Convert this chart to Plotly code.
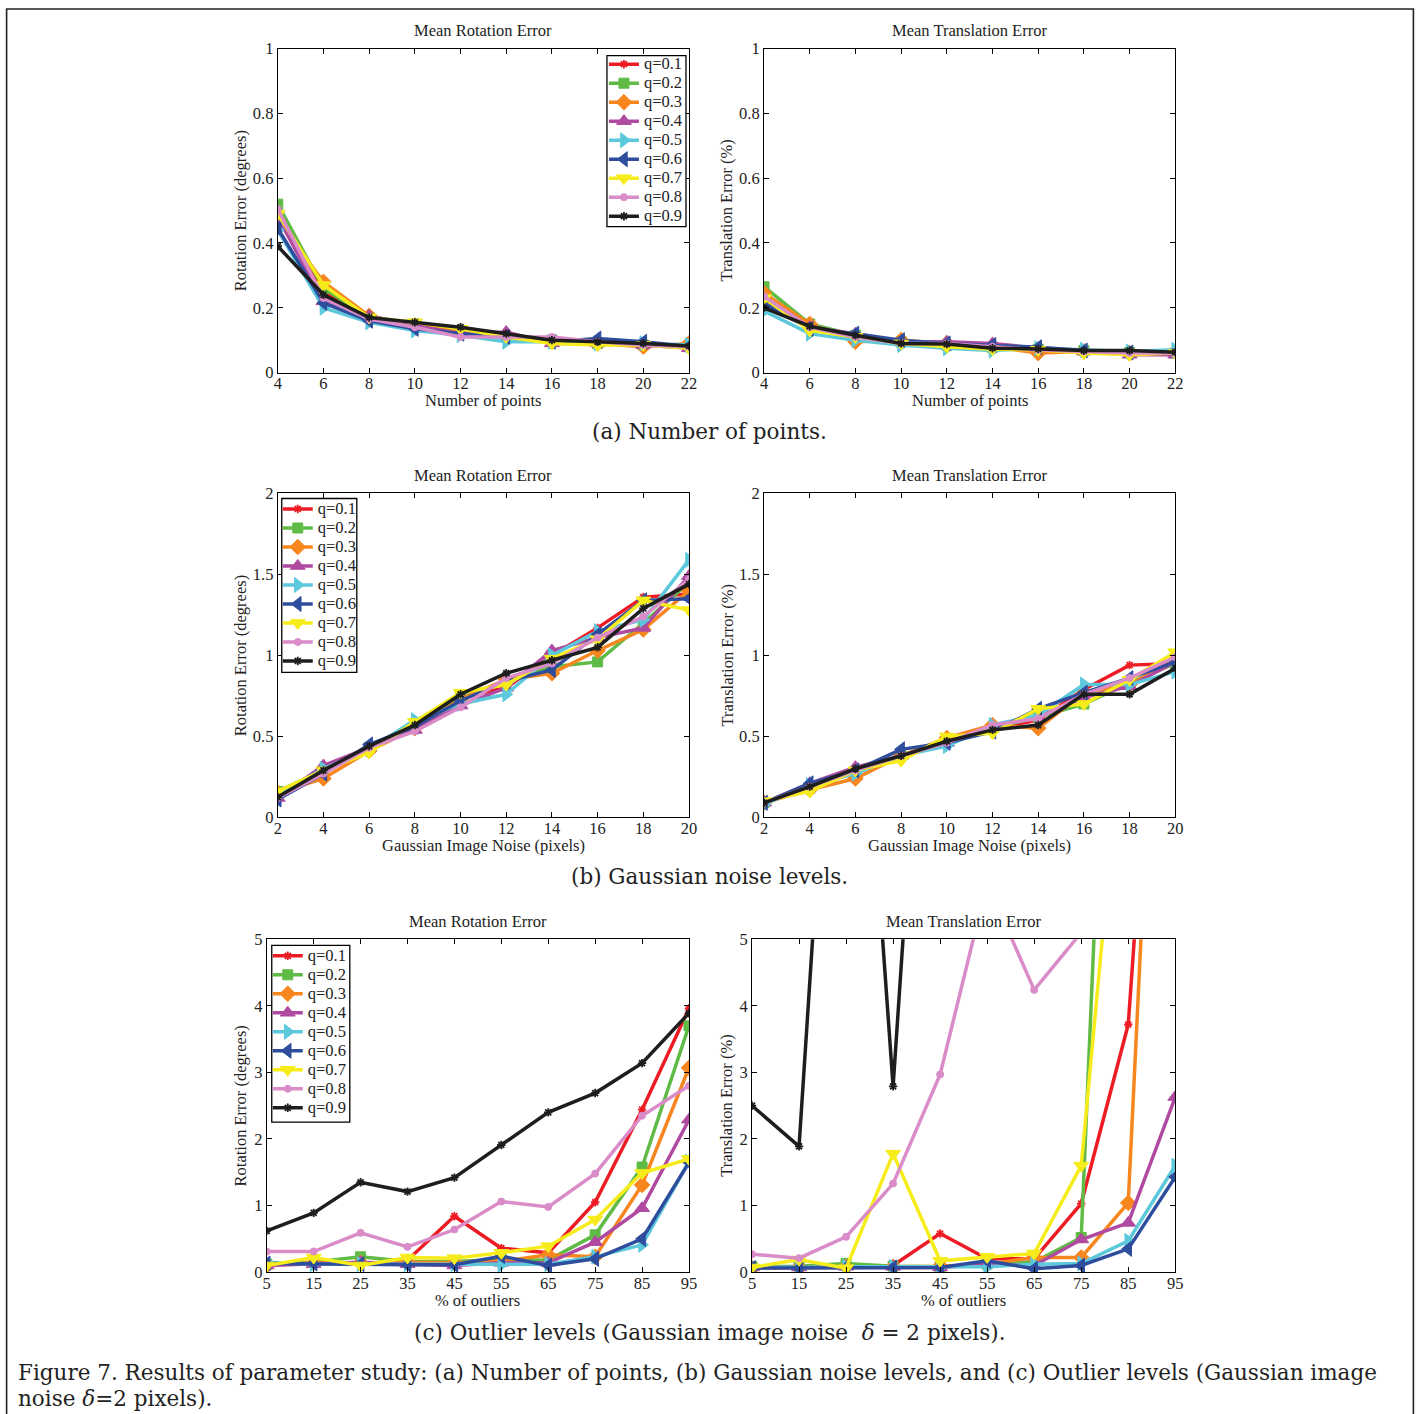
import plotly.graph_objects as go

W, H = 1422, 1414
# mapping from target page pixels to figure pixels (the page view is slightly inset)
SX, AX = 0.991, 4.4
SY, AY = 0.987, 8.3

# ---- data ------------------------------------------------------------------
q_labels = ["q=0.1", "q=0.2", "q=0.3", "q=0.4", "q=0.5", "q=0.6", "q=0.7", "q=0.8", "q=0.9"]

num_points = [4, 6, 8, 10, 12, 14, 16, 18, 20, 22]
noise_px = [2, 4, 6, 8, 10, 12, 14, 16, 18, 20]
outlier_pct = [5, 15, 25, 35, 45, 55, 65, 75, 85, 95]

rot_points = [
    [0.48, 0.25, 0.17, 0.15, 0.12, 0.115, 0.10, 0.095, 0.085, 0.08],
    [0.52, 0.26, 0.17, 0.15, 0.125, 0.11, 0.10, 0.09, 0.085, 0.08],
    [0.47, 0.28, 0.175, 0.145, 0.125, 0.115, 0.095, 0.09, 0.08, 0.09],
    [0.48, 0.22, 0.175, 0.145, 0.12, 0.125, 0.09, 0.09, 0.085, 0.075],
    [0.44, 0.20, 0.155, 0.13, 0.115, 0.095, 0.095, 0.09, 0.09, 0.085],
    [0.445, 0.215, 0.16, 0.135, 0.12, 0.11, 0.095, 0.105, 0.095, 0.08],
    [0.49, 0.27, 0.17, 0.155, 0.135, 0.11, 0.09, 0.085, 0.085, 0.075],
    [0.505, 0.23, 0.165, 0.14, 0.11, 0.11, 0.11, 0.095, 0.085, 0.08],
    [0.39, 0.24, 0.17, 0.155, 0.14, 0.12, 0.10, 0.095, 0.09, 0.082],
]
trans_points = [
    [0.21, 0.14, 0.115, 0.095, 0.09, 0.08, 0.075, 0.068, 0.065, 0.06],
    [0.265, 0.15, 0.115, 0.095, 0.085, 0.078, 0.072, 0.068, 0.062, 0.06],
    [0.245, 0.15, 0.095, 0.10, 0.09, 0.08, 0.06, 0.065, 0.06, 0.065],
    [0.22, 0.14, 0.12, 0.095, 0.095, 0.09, 0.075, 0.065, 0.055, 0.055],
    [0.19, 0.12, 0.10, 0.085, 0.075, 0.068, 0.075, 0.07, 0.065, 0.07],
    [0.215, 0.135, 0.12, 0.10, 0.09, 0.085, 0.078, 0.068, 0.062, 0.06],
    [0.23, 0.13, 0.11, 0.09, 0.08, 0.072, 0.07, 0.06, 0.055, 0.06],
    [0.235, 0.14, 0.11, 0.09, 0.09, 0.08, 0.07, 0.065, 0.06, 0.06],
    [0.20, 0.143, 0.115, 0.09, 0.088, 0.075, 0.073, 0.068, 0.068, 0.063],
]
rot_noise = [
    [0.13, 0.28, 0.43, 0.56, 0.74, 0.80, 1.00, 1.17, 1.36, 1.38],
    [0.16, 0.29, 0.43, 0.56, 0.74, 0.84, 0.93, 0.96, 1.20, 1.45],
    [0.15, 0.24, 0.41, 0.55, 0.73, 0.85, 0.89, 1.03, 1.16, 1.40],
    [0.12, 0.32, 0.43, 0.54, 0.69, 0.80, 1.03, 1.11, 1.17, 1.49],
    [0.14, 0.30, 0.42, 0.60, 0.70, 0.76, 1.00, 1.15, 1.22, 1.59],
    [0.11, 0.27, 0.45, 0.56, 0.72, 0.84, 0.91, 1.13, 1.34, 1.35],
    [0.16, 0.29, 0.40, 0.59, 0.77, 0.82, 0.98, 1.10, 1.34, 1.28],
    [0.12, 0.27, 0.43, 0.53, 0.68, 0.86, 0.95, 1.11, 1.24, 1.47],
    [0.125, 0.29, 0.44, 0.57, 0.76, 0.89, 0.97, 1.05, 1.29, 1.44],
]
trans_noise = [
    [0.09, 0.19, 0.29, 0.38, 0.47, 0.55, 0.60, 0.79, 0.94, 0.95],
    [0.09, 0.18, 0.28, 0.38, 0.48, 0.55, 0.62, 0.70, 0.83, 0.95],
    [0.09, 0.17, 0.24, 0.38, 0.49, 0.57, 0.55, 0.77, 0.82, 0.97],
    [0.09, 0.21, 0.31, 0.38, 0.46, 0.56, 0.62, 0.74, 0.81, 0.96],
    [0.08, 0.20, 0.27, 0.38, 0.44, 0.57, 0.63, 0.82, 0.82, 0.90],
    [0.09, 0.21, 0.29, 0.42, 0.46, 0.53, 0.67, 0.77, 0.86, 0.96],
    [0.10, 0.16, 0.29, 0.35, 0.50, 0.52, 0.67, 0.70, 0.85, 1.02],
    [0.09, 0.19, 0.29, 0.38, 0.46, 0.57, 0.61, 0.76, 0.86, 0.99],
    [0.09, 0.19, 0.30, 0.38, 0.47, 0.54, 0.57, 0.76, 0.76, 0.92],
]
rot_outliers = [
    [0.12, 0.14, 0.12, 0.18, 0.84, 0.36, 0.29, 1.05, 2.44, 3.96],
    [0.12, 0.15, 0.23, 0.16, 0.16, 0.19, 0.18, 0.56, 1.58, 3.70],
    [0.10, 0.14, 0.14, 0.15, 0.14, 0.16, 0.26, 0.23, 1.31, 3.07],
    [0.10, 0.12, 0.15, 0.12, 0.10, 0.14, 0.14, 0.45, 0.96, 2.29],
    [0.15, 0.12, 0.12, 0.12, 0.12, 0.11, 0.12, 0.23, 0.41, 1.66],
    [0.13, 0.13, 0.12, 0.11, 0.11, 0.24, 0.10, 0.20, 0.50, 1.65],
    [0.10, 0.22, 0.10, 0.22, 0.21, 0.29, 0.39, 0.79, 1.49, 1.70],
    [0.31, 0.31, 0.59, 0.38, 0.64, 1.06, 0.98, 1.48, 2.35, 2.80],
    [0.62, 0.89, 1.35, 1.21, 1.42, 1.91, 2.40, 2.69, 3.14, 3.89],
]
trans_outliers = [
    [0.07, 0.08, 0.09, 0.10, 0.58, 0.20, 0.20, 1.03, 3.72, 13.7],
    [0.08, 0.09, 0.13, 0.09, 0.08, 0.12, 0.15, 0.52, 17.1, 18.0],
    [0.06, 0.07, 0.08, 0.08, 0.09, 0.12, 0.22, 0.22, 1.04, 15.7],
    [0.07, 0.07, 0.08, 0.08, 0.07, 0.12, 0.10, 0.49, 0.74, 2.63],
    [0.08, 0.07, 0.08, 0.08, 0.07, 0.08, 0.12, 0.13, 0.47, 1.60],
    [0.06, 0.06, 0.07, 0.07, 0.07, 0.17, 0.05, 0.10, 0.35, 1.43],
    [0.07, 0.19, 0.06, 1.78, 0.17, 0.23, 0.28, 1.60, 9.2, 10.5],
    [0.27, 0.21, 0.53, 1.33, 2.97, 5.85, 4.24, 5.1, 6.5, 7.5],
    [2.50, 1.89, 12.7, 2.79, 13.3, 14.0, 14.5, 15.0, 15.5, 16.0],
]

# ---- styles ------------------------------------------------------------------
colors = ["#ED1C24", "#5FBB46", "#F7861F", "#B04AA0", "#5CC8DC",
          "#2E4D9D", "#F7EC1B", "#DA8CC8", "#1E1E1E"]
symbols = ["asterisk-open", "square", "diamond", "triangle-up", "triangle-right",
           "triangle-left", "triangle-down", "circle", "asterisk-open"]
msizes = [7, 10, 12, 13, 13, 13, 13, 7, 7]

AX_FONT = "Liberation Serif"
CAP_FONT = "DejaVu Serif"
FS = 16.5
CAP_FS = 21.5
INK = "#222222"


def px(x):
    """page pixel column -> paper x"""
    return ((x - AX) / SX) / W


def py(y):
    """page pixel row -> paper y"""
    return 1 - ((y - AY) / SY) / H


# panel boxes in page pixels: (left, right, top, bottom)
panels = [
    dict(box=(278, 689, 48, 372), x=num_points, data=rot_points, yr=[0, 1], dt=0.2,
         title="Mean Rotation Error", xt="Number of points", yt="Rotation Error (degrees)",
         legend="legend"),
    dict(box=(764, 1175, 48, 372), x=num_points, data=trans_points, yr=[0, 1], dt=0.2,
         title="Mean Translation Error", xt="Number of points", yt="Translation Error (%)",
         legend=None),
    dict(box=(278, 689, 493, 817), x=noise_px, data=rot_noise, yr=[0, 2], dt=0.5,
         title="Mean Rotation Error", xt="Gaussian Image Noise (pixels)",
         yt="Rotation Error (degrees)", legend="legend2"),
    dict(box=(764, 1175, 493, 817), x=noise_px, data=trans_noise, yr=[0, 2], dt=0.5,
         title="Mean Translation Error", xt="Gaussian Image Noise (pixels)",
         yt="Translation Error (%)", legend=None),
    dict(box=(267, 689, 939, 1272), x=outlier_pct, data=rot_outliers, yr=[0, 5], dt=1,
         title="Mean Rotation Error", xt="% of outliers", yt="Rotation Error (degrees)",
         legend="legend3"),
    dict(box=(752, 1175, 939, 1272), x=outlier_pct, data=trans_outliers, yr=[0, 5], dt=1,
         title="Mean Translation Error", xt="% of outliers", yt="Translation Error (%)",
         legend=None),
]

fig = go.Figure()
layout = {}
annotations = []

for i, p in enumerate(panels):
    n = "" if i == 0 else str(i + 1)
    l, r, t, b = p["box"]
    xs = p["x"]
    y0, y1 = p["yr"]
    nt = int(round((y1 - y0) / p["dt"]))
    yticks = [round(y0 + k * p["dt"], 3) for k in range(nt + 1)]
    ytext = [("%g" % v) for v in yticks]

    common = dict(showline=True, linecolor="black", linewidth=1, mirror="ticks",
                  ticks="inside", ticklen=5, tickcolor="black", tickwidth=1,
                  showgrid=False, zeroline=False,
                  tickfont=dict(family=AX_FONT, size=FS, color=INK))
    layout["xaxis" + n] = dict(domain=[px(l), px(r)], anchor="y" + n,
                               range=[xs[0], xs[-1]], tickvals=xs,
                               ticktext=[str(v) for v in xs], ticklabelstandoff=-4, **common)
    layout["yaxis" + n] = dict(domain=[py(b), py(t)], anchor="x" + n,
                               range=[y0, y1], tickvals=yticks, ticktext=ytext,
                               ticklabelstandoff=0, **common)

    for k, series in enumerate(p["data"]):
        lw = 1.8 if symbols[k] == "asterisk-open" else 1
        fig.add_trace(go.Scatter(
            x=xs, y=series, mode="lines+markers",
            name='<span style="font-size:%gpx">%s</span>' % (FS, q_labels[k]),
            xaxis="x" + n, yaxis="y" + n,
            line=dict(color=colors[k], width=3.5),
            marker=dict(symbol=symbols[k], size=msizes[k], color=colors[k],
                        line=dict(color=colors[k], width=lw)),
            showlegend=p["legend"] is not None,
            legend=p["legend"] if p["legend"] else "legend",
        ))

    cx = (l + r) / 2
    annotations.append(dict(x=px(cx), y=py(t - 18), text=p["title"], showarrow=False,
                            xref="paper", yref="paper", xanchor="center", yanchor="middle",
                            font=dict(family=AX_FONT, size=FS, color=INK)))
    annotations.append(dict(x=px(cx), y=py(b + 28), text=p["xt"], showarrow=False,
                            xref="paper", yref="paper", xanchor="center", yanchor="middle",
                            font=dict(family=AX_FONT, size=FS, color=INK)))
    ytx = 241 if l < 700 else 727
    annotations.append(dict(x=px(ytx), y=py((t + b) / 2), text=p["yt"], showarrow=False,
                            xref="paper", yref="paper", xanchor="center", yanchor="middle",
                            textangle=-90,
                            font=dict(family=AX_FONT, size=FS, color=INK)))

# sub-figure captions and figure caption
subcaps = [("(a) Number of points.", 431),
           ("(b) Gaussian noise levels.", 876),
           ("(c) Outlier levels (Gaussian image noise  <i>δ</i> = 2 pixels).", 1332)]
for txt, yy in subcaps:
    annotations.append(dict(x=px(710), y=py(yy), text=txt, showarrow=False,
                            xref="paper", yref="paper", xanchor="center", yanchor="middle",
                            font=dict(family=CAP_FONT, size=CAP_FS, color=INK)))
caption_lines = [
    ("Figure 7. Results of parameter study: (a) Number of points, (b) Gaussian noise levels, "
     "and (c) Outlier levels (Gaussian image", 1372),
    ("noise <i>δ</i>=2 pixels).", 1398),
]
for txt, yy in caption_lines:
    annotations.append(dict(x=px(16), y=py(yy), text=txt, showarrow=False,
                            xref="paper", yref="paper", xanchor="left", yanchor="middle",
                            font=dict(family=CAP_FONT, size=CAP_FS, color=INK)))

# legends: entries laid out by plotly, framed by a white box drawn under them.
# legend font size sets the row pitch; the label text itself is sized via span style
legend_style = dict(bgcolor="rgba(0,0,0,0)", borderwidth=0,
                    font=dict(family=AX_FONT, size=12.3, color=INK),
                    tracegroupgap=0, itemwidth=30,
                    xref="paper", yref="paper", xanchor="left", yanchor="top")
# (legend left, legend top, frame box) in page pixels
legend_spots = {
    "legend": (604, 49, (607, 686, 55, 226)),
    "legend2": (278, 494, (282, 357, 498, 672)),
    "legend3": (268, 941, (272, 350, 945, 1122)),
}
shapes = [dict(type="rect", xref="paper", yref="paper",
               x0=px(7), x1=px(1413), y0=-0.02, y1=1.0,
               line=dict(color="#222222", width=1.6))]
for name, (lx, ly, (bl, br, bt, bb)) in legend_spots.items():
    layout[name] = dict(x=px(lx), y=py(ly), **legend_style)
    shapes.append(dict(type="rect", xref="paper", yref="paper", layer="above",
                       x0=px(bl), x1=px(br), y0=py(bb), y1=py(bt),
                       fillcolor="white", line=dict(color="black", width=1.3)))

fig.update_layout(
    width=W, height=H,
    margin=dict(l=0, r=0, t=0, b=0),
    paper_bgcolor="white", plot_bgcolor="white",
    annotations=annotations,
    shapes=shapes,
    **layout,
)

fig.write_html("out.html")
